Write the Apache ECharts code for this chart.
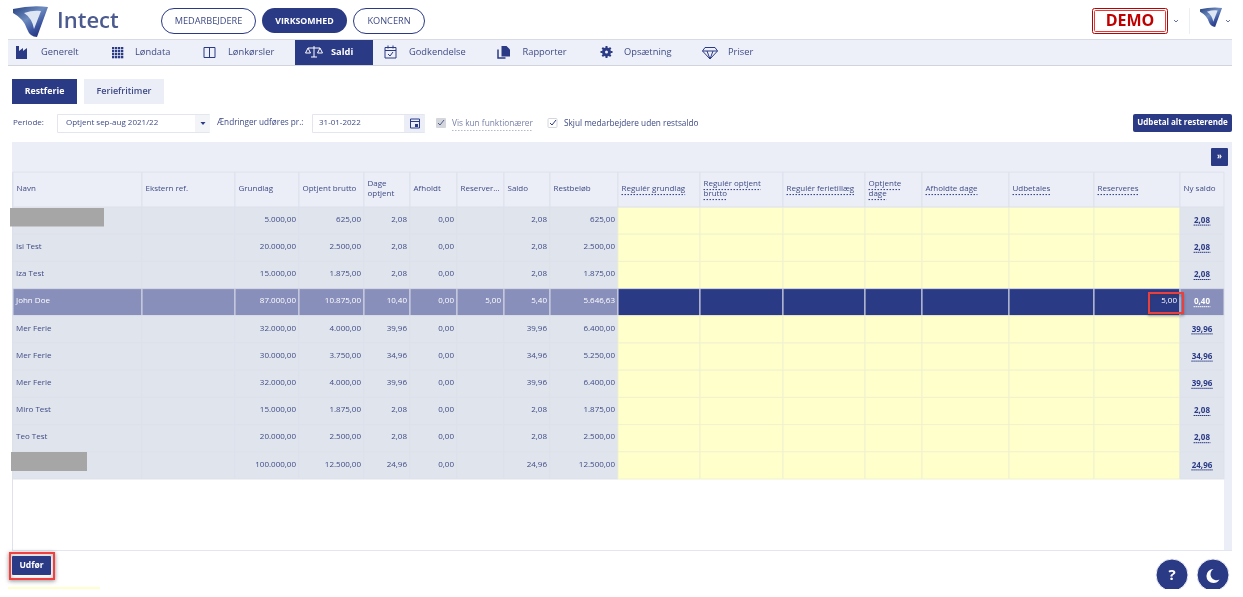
<!DOCTYPE html>
<html>
<head>
  <meta charset="utf-8">
  <title>Intect - Saldi</title>
  <style>html,body{margin:0;padding:0;background:#fff}#main{width:1243px;height:597px}</style>
  <script src="https://cdn.jsdelivr.net/npm/echarts@6/dist/echarts.min.js"></script>
</head>
<body>
  <div id="main"></div>
  <script type="text/javascript">
    // table content
    var columnHeaders = ['Navn', 'Ekstern ref.', 'Grundlag', 'Optjent brutto', 'Dage\noptjent', 'Afholdt', 'Reserver...', 'Saldo', 'Restbeløb',
      'Regulér grundlag', 'Regulér optjent\nbrutto', 'Regulér ferietillæg', 'Optjente\ndage', 'Afholdte dage', 'Udbetales', 'Reserveres', 'Ny saldo'];
    var names = ['', 'Isi Test', 'Iza Test', 'John Doe', 'Mer Ferie', 'Mer Ferie', 'Mer Ferie', 'Miro Test', 'Teo Test', ''];
    var grundlag = [5000, 20000, 15000, 87000, 32000, 30000, 32000, 15000, 20000, 100000];
    var optjentBrutto = [625, 2500, 1875, 10875, 4000, 3750, 4000, 1875, 2500, 12500];
    var dageOptjent = [2.08, 2.08, 2.08, 10.40, 39.96, 34.96, 39.96, 2.08, 2.08, 24.96];
    var afholdt = [0, 0, 0, 0, 0, 0, 0, 0, 0, 0];
    var reserveret = [null, null, null, 5, null, null, null, null, null, null];
    var saldo = [2.08, 2.08, 2.08, 5.40, 39.96, 34.96, 39.96, 2.08, 2.08, 24.96];
    var restbeloeb = [625, 2500, 1875, 5646.63, 6400, 5250, 6400, 1875, 2500, 12500];
    var reserveres = [null, null, null, 5, null, null, null, null, null, null];
    var nySaldo = [2.08, 2.08, 2.08, 0.40, 39.96, 34.96, 39.96, 2.08, 2.08, 24.96];

    // layout of the table, in page pixels
    var colEdges = [13, 142, 235, 299, 364, 410, 457, 504, 550, 618, 700, 783, 865, 922, 1009, 1094, 1180, 1224];
    var selectedRow = 3;

    var NAVY = '#2b3a85', PALE = '#ebeef7', ROW = '#e0e4ed', YELLOW = '#ffffcc', PICK = '#888fbb';
    var INK = '#3f4b85', FONT = '"Open Sans"';

    function money(v) {
      if (v === null) return '';
      var parts = v.toFixed(2).split('.');
      return parts[0].replace(/\B(?=(\d{3})+$)/g, '.') + ',' + parts[1];
    }

    var measure = document.createElement('canvas').getContext('2d');
    function textWidth(str, size) {
      measure.font = size + 'px ' + FONT;
      return measure.measureText(str).width;
    }

    // text style with the alignment names zrender reads
    function textStyle(x, y, str, font, fill, align) {
      return { x: x, y: y, text: str, font: font, fill: fill, align: align, verticalAlign: 'middle' };
    }

    var numberCols = [null, null, grundlag, optjentBrutto, dageOptjent, afholdt, reserveret, saldo, restbeloeb,
      null, null, null, null, null, null, reserveres, nySaldo];

    var cells = [];
    names.forEach(function (name, row) {
      columnHeaders.forEach(function (h, col) {
        var txt = col === 0 ? name : (numberCols[col] ? money(numberCols[col][row]) : '');
        cells.push([col, row, txt]);
      });
    });

    function renderCell(params, api) {
      var col = api.value(0), row = api.value(1), txt = cells[params.dataIndex][2];
      var a = api.coord([colEdges[col], row]), b = api.coord([colEdges[col + 1], row + 1]);
      var picked = row === selectedRow, editable = col >= 9 && col <= 15, last = col === 16;
      var fill = editable ? (picked ? NAVY : YELLOW) : (picked ? PICK : ROW);
      var line = picked ? '#d6d9e6' : (editable ? '#f1f1cf' : '#dde1ea');
      var color = picked ? '#fff' : INK;
      var kids = [{
        type: 'rect',
        shape: { x: a[0], y: a[1], width: b[0] - a[0], height: b[1] - a[1] },
        style: { fill: fill, stroke: line, lineWidth: 1 }
      }];
      if (txt) {
        var left = col === 0;
        var tx = left ? a[0] + 3 : (last ? (a[0] + b[0]) / 2 : b[0] - 3);
        var ty = (a[1] + b[1]) / 2 - 1;
        kids.push({
          type: 'text',
          style: textStyle(tx, ty + (last ? 1 : 0), txt, (last ? 'bold ' : '') + '8px ' + FONT,
            last && !picked ? NAVY : color, left ? 'left' : (last ? 'center' : 'right'))
        });
        if (last) {
          var w = textWidth(txt, 8) + 1;
          kids.push({
            type: 'line',
            shape: { x1: tx - w / 2, y1: ty + 5.5, x2: tx + w / 2, y2: ty + 5.5 },
            style: { stroke: picked ? '#fff' : NAVY, lineWidth: 1, lineDash: [1.5, 0.5] }
          });
        }
      }
      return { type: 'group', children: kids };
    }

    function renderHeader(params, api) {
      var col = api.value(0);
      var a = api.coord([colEdges[col], -1.28]), b = api.coord([colEdges[col + 1], 0]);
      var heading = columnHeaders[col], editable = col >= 9 && col <= 15;
      var rows = heading.split('\n'), midY = (a[1] + b[1]) / 2 - 1;
      var kids = [{
        type: 'rect',
        shape: { x: a[0], y: a[1], width: b[0] - a[0], height: b[1] - a[1] },
        style: { fill: PALE, stroke: '#dde1ec', lineWidth: 1 }
      }];
      rows.forEach(function (str, i) {
        var y = midY + (i - (rows.length - 1) / 2) * 10;
        kids.push({ type: 'text', style: textStyle(a[0] + 3.5, y, str, '8px ' + FONT, INK, 'left') });
        if (editable) {
          kids.push({
            type: 'line',
            shape: { x1: a[0] + 3.5, y1: y + 6, x2: a[0] + 3.5 + textWidth(str, 8), y2: y + 6 },
            style: { stroke: NAVY, lineWidth: 1, lineDash: [1.5, 1.5] }
          });
        }
      });
      return { type: 'group', children: kids };
    }

    // page chrome
    var chrome = [];
    function box(x, y, w, h, fill, extra) {
      var style = Object.assign({ fill: fill }, extra && extra.style);
      chrome.push({ type: 'rect', z2: (extra && extra.z) || 5, shape: { x: x, y: y, width: w, height: h, r: (extra && extra.r) || 0 }, style: style });
    }
    function label(x, y, str, size, fill, extra) {
      chrome.push({
        type: 'text', z2: (extra && extra.z) || 10,
        style: textStyle(x, y, str, ((extra && extra.weight) || 'normal') + ' ' + size + 'px ' + FONT, fill, (extra && extra.align) || 'left')
      });
    }
    function icon(d, fill, stroke, z, dash, lw) {
      chrome.push({
        type: 'path', z2: z || 10,
        shape: { pathData: d },
        style: { fill: fill || 'none', stroke: stroke || 'none', lineWidth: lw || 1, lineDash: dash || null }
      });
    }
    function logo(dx, dy, k) {
      var grad = new echarts.graphic.LinearGradient(0, 0, 0.6, 1, [
        { offset: 0, color: '#24407f' }, { offset: 0.5, color: '#6f8cc0' }, { offset: 0.8, color: '#3c55a0' }, { offset: 1, color: '#2b3a85' }
      ]);
      var p = function (x, y) { return (dx + x * k) + ' ' + (dy + y * k); };
      icon('M' + p(0, 2) + 'Q' + p(18, -2) + ' ' + p(35, 0) + 'L' + p(24, 30) + 'Q' + p(17, 30) + ' ' + p(14, 22) + 'Q' + p(11, 12) + ' ' + p(0, 6) + 'Z', grad, null, 11);
      icon('M' + p(11, 6) + 'Q' + p(20, 3) + ' ' + p(28, 4) + 'L' + p(21, 22) + 'Q' + p(19, 11) + ' ' + p(11, 6) + 'Z', '#dfe6f3', null, 12);
    }

    // top bar
    logo(13, 7, 1);
    label(57, 22, 'Intect', 22, '#4c5b8f', { weight: '600' });
    box(161.5, 8.5, 94, 25, '#fff', { r: 12.5, style: { stroke: NAVY, lineWidth: 1 } });
    label(208.5, 21, 'MEDARBEJDERE', 9.2, INK, { align: 'center' });
    box(262, 8, 85, 25, NAVY, { r: 12.5 });
    label(304.5, 21, 'VIRKSOMHED', 8.8, '#fff', { align: 'center', weight: 'bold' });
    box(353.5, 8.5, 71, 25, '#fff', { r: 12.5, style: { stroke: NAVY, lineWidth: 1 } });
    label(389, 21, 'KONCERN', 9.2, INK, { align: 'center' });
    box(1092.5, 8.5, 75, 25, '#fff', { r: 2, style: { stroke: '#c00000', lineWidth: 1 } });
    box(1094.5, 10.5, 71, 21, '#fff', { r: 1, style: { stroke: '#d84040', lineWidth: 1 }, z: 6 });
    label(1130, 21, 'DEMO', 16, '#c00000', { align: 'center', weight: 'bold' });
    icon('M1174 20l2 2l2 -2', null, '#6672a5');
    box(1189, 8, 1, 26, '#eceef3');
    logo(1200, 8, 0.63);
    icon('M1226 20l2 2l2 -2', null, '#6672a5');

    // nav bar
    box(8, 40, 1224, 25, '#edf0f8');
    box(8, 39, 1224, 1, '#d9dbe3');
    box(8, 65, 1224, 1, '#d2d4dc');
    box(295, 40, 78, 25, NAVY, { z: 6 });
    var navItems = [['Generelt', 41], ['Løndata', 135], ['Lønkørsler', 228], ['Saldi', 331], ['Godkendelse', 409], ['Rapporter', 522.5], ['Opsætning', 624], ['Priser', 728]];
    navItems.forEach(function (item) {
      label(item[1], 52, item[0], 9.3, item[0] === 'Saldi' ? '#fff' : INK, { weight: item[0] === 'Saldi' ? 'bold' : '500' });
    });
    icon('M16 46h3v5l4 -3v3l4 -3v11h-11z', NAVY);
    for (var gy = 0; gy < 4; gy++) for (var gx = 0; gx < 4; gx++) box(112 + gx * 3, 47 + gy * 3, 2.3, 2.3, NAVY, { z: 10 });
    icon('M204 47.5h11v10h-11zM209.5 47.5v10', null, NAVY);
    icon('M314 46v11M308 48h12M311 57h6M308 48l-2.5 5h5zM320 48l-2.5 5h5z', null, '#fff');
    icon('M385 47.5h11v10.5h-11zM385 50.5h11M388 45.5v3M393 45.5v3M388 54l2 2l3 -4', null, NAVY);
    icon('M501.5 46h5l3.5 3.5v7h-8.5z', NAVY);
    icon('M498 49.5v8.5h7.5', null, NAVY, 10, null, 1.5);
    chrome.push({ type: 'circle', z2: 10, shape: { cx: 606.5, cy: 52, r: 3 }, style: { fill: '#edf0f8', stroke: NAVY, lineWidth: 3 } });
    icon('M606.5 46v2M606.5 56v2M600.5 52h2M610.5 52h2M602.3 47.8l1.4 1.4M609.3 54.8l1.4 1.4M610.7 47.8l-1.4 1.4M603.7 54.8l-1.4 1.4', null, NAVY, 10, null, 2);
    icon('M705 47.5h10l2.5 3.5l-7.5 8l-7.5 -8zM702.5 51h15M707 51l3 8l3 -8', null, NAVY);

    // tabs
    box(12, 79, 65, 25, NAVY);
    label(44.5, 91, 'Restferie', 8.8, '#fff', { align: 'center', weight: 'bold' });
    box(84, 79, 80, 25, PALE);
    label(124, 91, 'Feriefritimer', 9, INK, { align: 'center', weight: '600' });

    // filter row
    label(13, 123, 'Periode:', 8, INK);
    box(57.5, 114.5, 152, 18, '#fff', { style: { stroke: '#e3e6ef', lineWidth: 1 } });
    box(195, 115, 15, 17, '#f3f4f8', { z: 6 });
    label(66, 123, 'Optjent sep-aug 2021/22', 8, INK);
    icon('M200.5 122h5l-2.5 3z', NAVY);
    label(217, 123, 'Ændringer udføres pr.:', 8.2, INK);
    box(312.5, 114.5, 112, 18, '#fff', { style: { stroke: '#e3e6ef', lineWidth: 1 } });
    box(404, 115, 21, 17, PALE, { z: 6 });
    label(319, 123, '31-01-2022', 8, INK);
    icon('M410.5 119h9v9h-9zM410.5 121.5h9', null, NAVY);
    box(415, 124, 3, 3, NAVY, { z: 10 });
    box(436, 118, 10, 10, '#d4d6dc', { r: 1 });
    icon('M438 123l2 2l4 -5', null, '#4c5b8f');
    label(452, 124, 'Vis kun funktionærer', 8.3, '#7a83a8');
    icon('M452 130.5h81', null, '#b5b9c8', 10, [1.5, 1.5]);
    box(548, 118.5, 9, 9, '#fff', { r: 1, style: { stroke: '#d4d6dc', lineWidth: 1 } });
    icon('M550 123l2 2l4 -5', null, NAVY);
    label(564, 124, 'Skjul medarbejdere uden restsaldo', 8.25, INK);
    box(1133, 114, 99, 18, NAVY, { r: 2 });
    label(1182.5, 123, 'Udbetal alt resterende', 8, '#fff', { align: 'center', weight: 'bold' });

    // table frame
    box(12, 142, 1220, 30, PALE);
    box(1224, 172, 8, 378, PALE);
    box(1180, 172, 52, 35, PALE);
    box(12, 172, 1, 378, '#dfe2ee');
    box(12, 550, 1220, 1, '#e3e6f1');
    box(1211, 148, 17, 18, NAVY, { r: 1, z: 6 });
    label(1219.5, 156.5, '»', 8, '#fff', { align: 'center', weight: 'bold' });

    // blanked out names and highlight boxes
    box(10, 208, 94, 18.5, '#a6a6a6', { z: 40 });
    box(11, 452, 76, 19, '#a6a6a6', { z: 40 });
    box(1149, 293, 34, 20, 'none', { z: 40, style: { fill: 'none', stroke: '#e8403f', lineWidth: 2, shadowColor: 'rgba(60,60,60,0.45)', shadowBlur: 3, shadowOffsetY: 2 } });
    box(10, 553, 44, 26, '#fff', { z: 40, style: { fill: '#fff', stroke: '#f04040', lineWidth: 2, shadowColor: 'rgba(60,60,60,0.5)', shadowBlur: 4, shadowOffsetY: 1 } });
    box(12, 556, 39, 19, NAVY, { z: 41, r: 1 });
    label(31.5, 565.5, 'Udfør', 8.5, '#fff', { align: 'center', weight: 'bold', z: 42 });

    // bottom right buttons, cut by the edge of the screenshot
    box(8, 587, 92, 2, YELLOW);
    chrome.push({ type: 'circle', z2: 20, shape: { cx: 1172, cy: 575, r: 16 }, style: { fill: NAVY, stroke: '#eef0f6', lineWidth: 1 } });
    chrome.push({ type: 'circle', z2: 20, shape: { cx: 1213, cy: 575, r: 16 }, style: { fill: NAVY, stroke: '#eef0f6', lineWidth: 1 } });
    label(1172, 576, '?', 15, '#fff', { align: 'center', weight: 'bold', z: 21 });
    icon('M1213.5 569a7 7 0 1 0 6 10.5a6 6 0 0 1 -6 -10.5z', '#fff', null, 21);
    box(0, 589, 1243, 8, '#fff', { z: 30 });

    function chromeLayer(test) {
      return function () {
        return { type: 'group', children: chrome.filter(test) };
      };
    }

    var myChart = echarts.init(document.getElementById('main'), null, { renderer: 'canvas' });

    var option = {
      animation: false,
      backgroundColor: '#fff',
      grid: { left: 0, top: 207, width: 1243, height: 272, containLabel: false },
      xAxis: { type: 'value', min: 0, max: 1243, show: false },
      yAxis: { type: 'value', min: 0, max: 10, inverse: true, show: false },
      series: [
        {
          name: 'chrome', type: 'custom', clip: false, silent: true, z: 2,
          encode: { x: 0 }, data: [[0]],
          renderItem: chromeLayer(function (el) { return el.z2 < 40; })
        },
        {
          name: 'cells', type: 'custom', clip: false, silent: true, z: 6,
          encode: { x: 0, y: 1 },
          data: cells.map(function (c) { return [c[0], c[1]]; }),
          renderItem: renderCell
        },
        {
          name: 'header', type: 'custom', clip: false, silent: true, z: 6,
          encode: { x: 0 },
          data: columnHeaders.map(function (h, i) { return [i]; }),
          renderItem: renderHeader
        },
        {
          name: 'marks', type: 'custom', clip: false, silent: true, z: 10,
          encode: { x: 0 }, data: [[0]],
          renderItem: chromeLayer(function (el) { return el.z2 >= 40; })
        }
      ]
    };

    myChart.setOption(option);
  </script>
</body>
</html>
